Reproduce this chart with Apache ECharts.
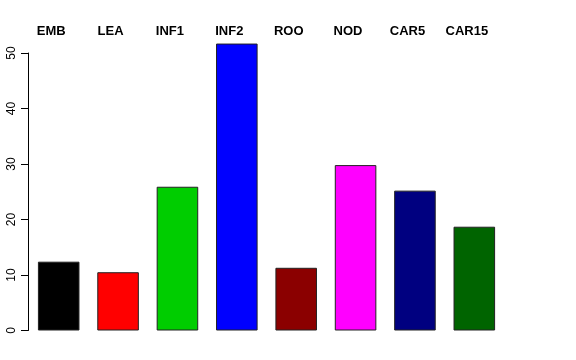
<!DOCTYPE html>
<html>
<head>
<meta charset="utf-8">
<script src="https://cdn.jsdelivr.net/npm/echarts@6/dist/echarts.min.js"></script>
<style>html,body{margin:0;padding:0;background:#fff}#c{width:576px;height:360px}</style>
</head>
<body>
<div id="c"></div>
<script>
const categories = ["EMB","LEA","INF1","INF2","ROO","NOD","CAR5","CAR15"];
const values = [12.4, 10.5, 25.9, 51.7, 11.3, 29.8, 25.2, 18.7];
const barColors = ["#000000","#FF0000","#00CD00","#0000FF","#8B0000","#FF00FF","#000080","#006400"];
const yTicks = [0, 10, 20, 30, 40, 50];

const chart = echarts.init(document.getElementById('c'), null, {renderer:'canvas'});
const font = "'Liberation Sans', Arial, Helvetica, sans-serif";
chart.setOption({
  animation: false,
  backgroundColor: '#ffffff',
  grid: [
    {left: 29, right: 72, top: 40, bottom: 29.5},
    {left: 28, right: 72, top: 53, bottom: 29.5}
  ],
  xAxis: [
    {type: 'category', gridIndex: 0, data: categories, position: 'top',
     axisLine: {show: false}, axisTick: {show: false}, splitLine: {show: false},
     axisLabel: {color: '#000', fontFamily: font, fontWeight: 'bold', fontSize: 13, margin: 2, padding: [0, 15, 0, 0], interval: 0}},
    {type: 'value', gridIndex: 1, show: false}
  ],
  yAxis: [
    {type: 'value', gridIndex: 0, min: 0, max: 52.34, show: false, splitLine: {show: false}},
    {type: 'value', gridIndex: 1, min: yTicks[0], max: yTicks[yTicks.length-1], interval: 10,
     axisLine: {show: true, lineStyle: {color: '#000', width: 1}},
     axisTick: {show: true, length: 7, lineStyle: {color: '#000'}},
     splitLine: {show: false},
     axisLabel: {color: '#000', fontFamily: font, fontSize: 12, rotate: 90, margin: 10}}
  ],
  series: [{
    type: 'bar', xAxisIndex: 0, yAxisIndex: 0,
    barWidth: '70%',
    data: values.map((v, i) => ({value: v, itemStyle: {color: barColors[i]}})),
    itemStyle: {borderColor: '#222', borderWidth: 1}
  }]
});
</script>
</body>
</html>
